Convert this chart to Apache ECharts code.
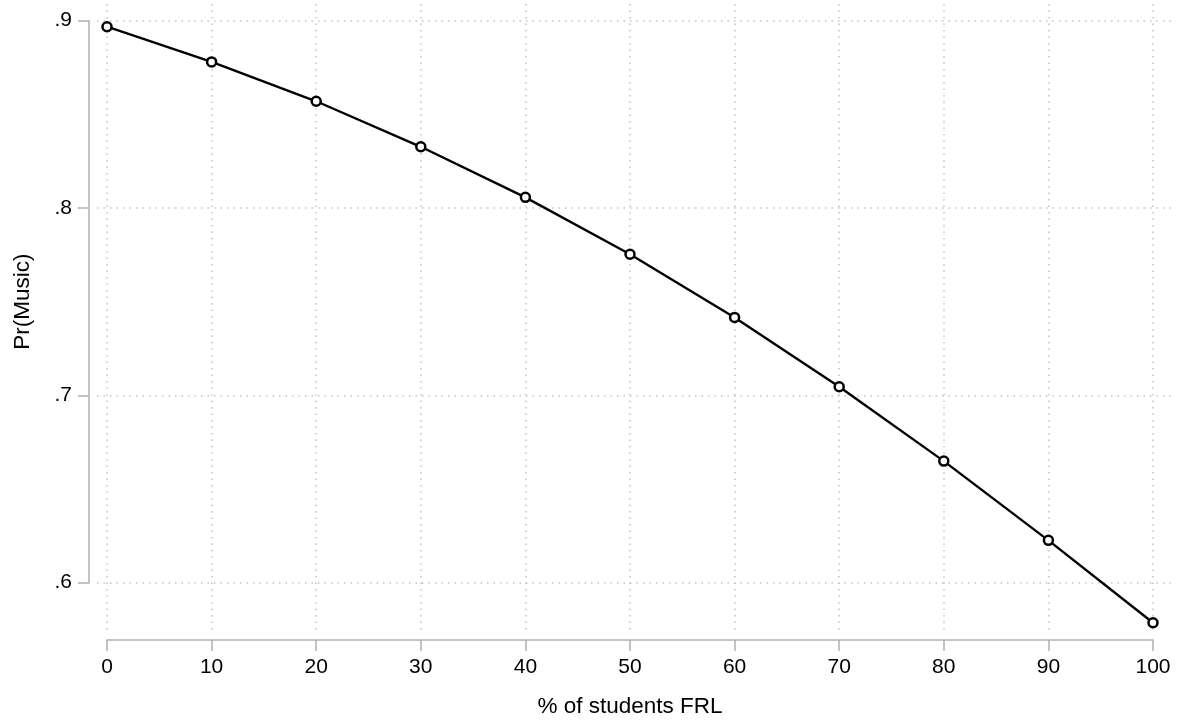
<!DOCTYPE html>
<html>
<head>
<meta charset="utf-8">
<script src="https://cdn.jsdelivr.net/npm/echarts@6/dist/echarts.min.js"></script>
<style>
html,body{margin:0;padding:0;background:#fff;}
#chart{width:1183px;height:726px;}
</style>
</head>
<body>
<div id="chart"></div>
<script>
const frlPercent = [0, 10, 20, 30, 40, 50, 60, 70, 80, 90, 100];
const prMusic = [0.8968, 0.878, 0.857, 0.8327, 0.8057, 0.7753, 0.7416, 0.7046, 0.6649, 0.6226, 0.5786];
const xTickValues = [0, 10, 20, 30, 40, 50, 60, 70, 80, 90, 100];
const yTickValues = [0.6, 0.7, 0.8, 0.9];
const xTitle = '% of students FRL';
const yTitle = 'Pr(Music)';

const FONT = 'Liberation Sans, Arial, Helvetica, sans-serif';
const AXIS_COLOR = '#b0b0b0';
const GRID_COLOR = '#c4c4c4';

const chart = echarts.init(document.getElementById('chart'), null, {renderer: 'canvas'});

const option = {
  backgroundColor: '#fff',
  animation: false,
  grid: [
    {left: 107, right: 30, top: 4, bottom: 94},          // vertical grid lines + x axis
    {left: 97, right: 8, top: 20.7, bottom: 143.3},      // horizontal grid lines + y axis
    {left: 107, right: 30, top: 20.7, bottom: 143.3}     // data
  ],
  xAxis: [
    {
      gridIndex: 0, type: 'value', min: 0, max: 100, interval: 10,
      position: 'bottom', offset: 8,
      axisLine: {show: true, onZero: false, lineStyle: {color: AXIS_COLOR, width: 1.5}},
      axisTick: {show: true, length: 11, lineStyle: {color: AXIS_COLOR, width: 1.5}},
      axisLabel: {show: true, color: '#000', fontSize: 21, fontFamily: FONT, margin: 17,
        formatter: v => String(Math.round(v))},
      splitLine: {show: true, lineStyle: {color: GRID_COLOR, width: 1.5, type: [1.5, 5]}},
      name: xTitle, nameLocation: 'middle', nameGap: 55,
      nameTextStyle: {color: '#000', fontSize: 22.5, fontFamily: FONT}
    },
    {gridIndex: 1, type: 'value', min: 0, max: 1, show: false},
    {gridIndex: 2, type: 'value', min: 0, max: 100, show: false}
  ],
  yAxis: [
    {gridIndex: 0, type: 'value', min: 0, max: 1, show: false},
    {
      gridIndex: 1, type: 'value', min: 0.6, max: 0.9, interval: 0.1,
      position: 'left', offset: 8,
      axisLine: {show: true, onZero: false, lineStyle: {color: AXIS_COLOR, width: 1.5}},
      axisTick: {show: true, length: 11, lineStyle: {color: AXIS_COLOR, width: 1.5}},
      axisLabel: {show: true, color: '#000', fontSize: 21, fontFamily: FONT, margin: 17,
        formatter: v => v.toFixed(1).replace(/^0/, '')},
      splitLine: {show: true, lineStyle: {color: GRID_COLOR, width: 1.5, type: [1.5, 5]}},
      name: yTitle, nameLocation: 'middle', nameGap: 55, nameRotate: 90,
      nameTextStyle: {color: '#000', fontSize: 22.5, fontFamily: FONT}
    },
    {gridIndex: 2, type: 'value', min: 0.6, max: 0.9, show: false}
  ],
  series: [{
    type: 'line',
    xAxisIndex: 2, yAxisIndex: 2,
    data: frlPercent.map((x, i) => [x, prMusic[i]]),
    clip: false,
    symbol: 'circle', symbolSize: 9, showAllSymbol: true,
    lineStyle: {color: '#000', width: 2.4},
    itemStyle: {color: '#fff', borderColor: '#000', borderWidth: 2.5},
    z: 10
  }]
};
chart.setOption(option);
</script>
</body>
</html>
